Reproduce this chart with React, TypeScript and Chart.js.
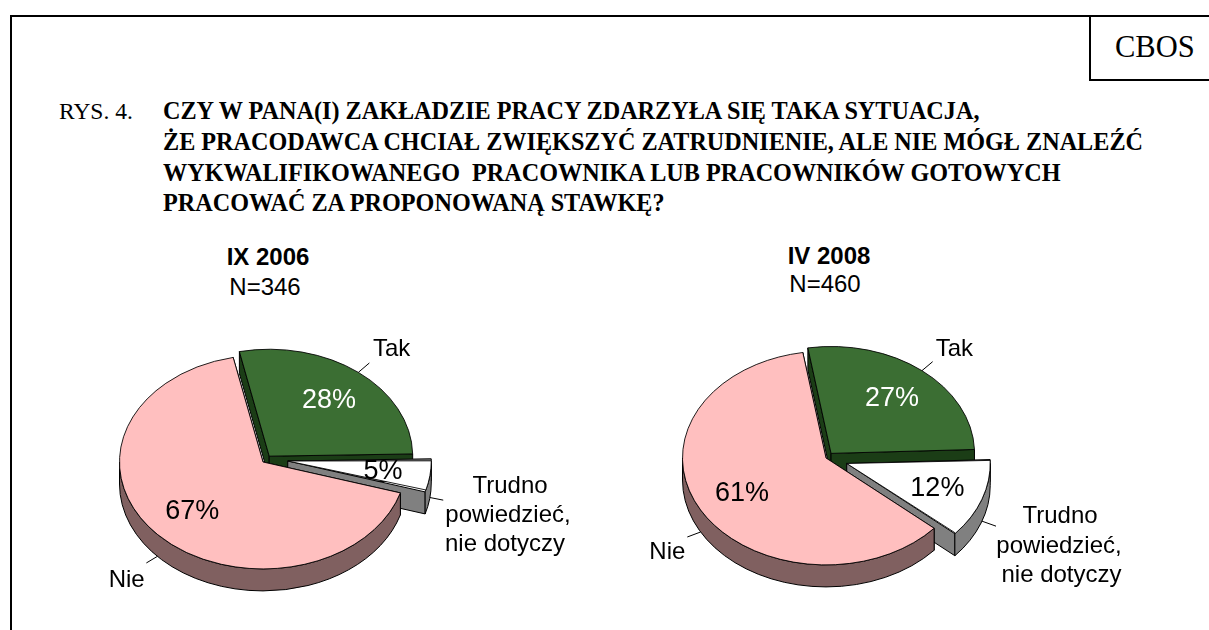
import React, { useEffect, useRef } from "react";
import { Chart, registerables } from "chart.js";

Chart.register(...registerables);

// ---------- data ----------
const categories = ["Tak", "Trudno powiedzieć, nie dotyczy", "Nie"];
const values2006 = [28, 5, 67];
const values2008 = [27, 12, 61];
const period2006 = "IX 2006";
const period2008 = "IV 2008";
const sample2006 = "N=346";
const sample2008 = "N=460";
const titleLines = [
  "CZY W PANA(I) ZAKŁADZIE PRACY ZDARZYŁA SIĘ TAKA SYTUACJA,",
  "ŻE PRACODAWCA CHCIAŁ ZWIĘKSZYĆ ZATRUDNIENIE, ALE NIE MÓGŁ ZNALEŹĆ",
  "WYKWALIFIKOWANEGO  PRACOWNIKA LUB PRACOWNIKÓW GOTOWYCH",
  "PRACOWAĆ ZA PROPONOWANĄ STAWKĘ?",
];
const figureLabel = "RYS. 4.";
const sourceLabel = "CBOS";

// ---------- style ----------
const topColors = ["#3B6E33", "#FFFFFF", "#FFBFBF"];
const wallColors = ["#1B3D16", "#808080", "#806060"];
const valueColors = ["#FFFFFF", "#000000", "#000000"];
const SANS = '"Liberation Sans", Arial, sans-serif';
const SERIF = '"Liberation Serif", "Times New Roman", serif';
const RADIUS = 143.5;
const SQUASH = 0.745;
const DEPTH = 22;
const CANVAS_W = 700;
const CANVAS_H = 336;

type LabelSpec = { x: number; lines: { text: string; dx: number; y: number }[]; leader: [number, number] };

const layout2006 = {
  left: -87, top: 294, rotation: -12, explode: [10, 25, 0], lift: [0, -3.5, 0],
  labels: [
    { x: 391.7, lines: [{ text: "Tak", dx: 0, y: 356 }], leader: [11, -9.4] },
    {
      x: 508,
      lines: [
        { text: "Trudno", dx: 2, y: 493 },
        { text: "powiedzieć,", dx: 0, y: 522 },
        { text: "nie dotyczy", dx: -3, y: 551 },
      ],
      leader: [13.3, 2.6],
    },
    { x: 126.7, lines: [{ text: "Nie", dx: 0, y: 587.3 }], leader: [-11, 6.6] },
  ] as LabelSpec[],
};

const layout2008 = {
  left: 476, top: 290, rotation: -9.3, explode: [8, 22, 0], lift: [0, 0, 0],
  labels: [
    { x: 954.3, lines: [{ text: "Tak", dx: 0, y: 356 }], leader: [10.7, -9] },
    {
      x: 1060,
      lines: [
        { text: "Trudno", dx: 0, y: 523 },
        { text: "powiedzieć,", dx: -1, y: 552.5 },
        { text: "nie dotyczy", dx: 1.5, y: 582 },
      ],
      leader: [14, 5],
    },
    { x: 667.3, lines: [{ text: "Nie", dx: 0, y: 559.3 }], leader: [-13.3, 5] },
  ] as LabelSpec[],
};

function makePlugin(cfg: typeof layout2006) {
  const shift = (arc: any, i: number) => {
    const h = (arc.startAngle + arc.endAngle) / 2;
    const e = cfg.explode[i];
    return {
      cx: arc.x + Math.cos(h) * e,
      cy: arc.baseY + Math.sin(h) * e * SQUASH + cfg.lift[i],
    };
  };
  return {
    id: "pie3d",
    afterDatasetsUpdate(chart: any) {
      // keep every exploded slice at the true radius
      chart.getDatasetMeta(0).data.forEach((arc: any, i: number) => {
        const c = arc.endAngle - arc.startAngle;
        const fix = 1 - Math.sin(Math.min(Math.PI, c));
        arc.outerRadius = RADIUS - cfg.explode[i] * fix;
        arc.baseY = arc.y;
        arc.y = arc.y + cfg.lift[i] / SQUASH;
      });
    },
    beforeDatasetsDraw(chart: any) {
      const ctx: CanvasRenderingContext2D = chart.ctx;
      ctx.save();
      ctx.lineWidth = 1;
      ctx.strokeStyle = "#000";
      ctx.lineJoin = "round";
      chart.getDatasetMeta(0).data.forEach((arc: any, i: number) => {
        const { cx, cy } = shift(arc, i);
        const a0 = arc.startAngle;
        const a1 = arc.endAngle;
        ctx.fillStyle = wallColors[i];
        [a0, a1].forEach((a) => {
          const px = cx + Math.cos(a) * RADIUS;
          const py = cy + Math.sin(a) * RADIUS * SQUASH;
          ctx.beginPath();
          ctx.moveTo(cx, cy);
          ctx.lineTo(px, py);
          ctx.lineTo(px, py + DEPTH);
          ctx.lineTo(cx, cy + DEPTH);
          ctx.closePath();
          ctx.fill();
          ctx.stroke();
        });
        const lo = Math.max(a0, 0);
        const hi = Math.min(a1, Math.PI);
        if (hi > lo) {
          ctx.beginPath();
          ctx.ellipse(cx, cy, RADIUS, RADIUS * SQUASH, 0, lo, hi);
          ctx.ellipse(cx, cy + DEPTH, RADIUS, RADIUS * SQUASH, 0, hi, lo, true);
          ctx.closePath();
          ctx.fill();
          ctx.stroke();
        }
      });
      ctx.restore();
    },
    beforeDatasetDraw(chart: any) {
      const arc = chart.getDatasetMeta(0).data[0];
      const ctx = chart.ctx;
      ctx.save();
      ctx.translate(arc.x, arc.baseY);
      ctx.scale(1, SQUASH);
      ctx.translate(-arc.x, -arc.baseY);
    },
    afterDatasetDraw(chart: any) {
      chart.ctx.restore();
    },
    afterDatasetsDraw(chart: any) {
      const ctx: CanvasRenderingContext2D = chart.ctx;
      const vals = chart.data.datasets[0].data as number[];
      ctx.save();
      chart.getDatasetMeta(0).data.forEach((arc: any, i: number) => {
        const { cx, cy } = shift(arc, i);
        const h = (arc.startAngle + arc.endAngle) / 2;
        // percentage inside the slice
        ctx.font = `27px ${SANS}`;
        ctx.textAlign = "center";
        ctx.textBaseline = "middle";
        ctx.fillStyle = valueColors[i];
        ctx.fillText(
          `${vals[i]}%`,
          cx + Math.cos(h) * RADIUS * 0.67,
          cy + Math.sin(h) * RADIUS * 0.67 * SQUASH + 1
        );
        // leader line
        const spec = cfg.labels[i];
        const sx = cx + Math.cos(h) * RADIUS;
        const sy = cy + Math.sin(h) * RADIUS * SQUASH + (Math.sin(h) > 0 ? DEPTH : 0);
        ctx.strokeStyle = "#000";
        ctx.lineWidth = 1;
        ctx.beginPath();
        ctx.moveTo(sx, sy);
        ctx.lineTo(sx + spec.leader[0], sy + spec.leader[1]);
        ctx.stroke();
        // category label
        ctx.font = `24px ${SANS}`;
        ctx.textBaseline = "alphabetic";
        ctx.fillStyle = "#000";
        spec.lines.forEach((l) => {
          ctx.fillText(l.text, spec.x + l.dx - cfg.left, l.y - cfg.top);
        });
      });
      ctx.restore();
    },
  };
}

function Pie({ values, cfg }: { values: number[]; cfg: typeof layout2006 }) {
  const ref = useRef<HTMLCanvasElement>(null);
  useEffect(() => {
    const chart = new Chart(ref.current!, {
      type: "pie",
      data: {
        labels: categories,
        datasets: [
          {
            data: values,
            backgroundColor: topColors,
            borderColor: "#000",
            borderWidth: 1,
            borderJoinStyle: "round",
            offset: cfg.explode.map((e) => e * 4),
          } as any,
        ],
      },
      options: {
        animation: false,
        responsive: false,
        radius: RADIUS,
        rotation: cfg.rotation,
        layout: { padding: 0 },
        events: [],
        plugins: { legend: { display: false }, tooltip: { enabled: false }, title: { display: false } },
      } as any,
      plugins: [makePlugin(cfg)],
    });
    return () => chart.destroy();
  }, []);
  return (
    <canvas
      ref={ref}
      width={CANVAS_W}
      height={CANVAS_H}
      style={{ position: "absolute", left: cfg.left, top: cfg.top, width: CANVAS_W, height: CANVAS_H }}
    />
  );
}

function Txt(p: {
  x: number; y: number; size: number; serif?: boolean; bold?: boolean; center?: boolean; children: string;
}) {
  const asc = p.serif ? 0.891 : 0.905;
  return (
    <div
      style={{
        position: "absolute",
        left: p.x,
        top: p.y - p.size * asc,
        fontFamily: p.serif ? SERIF : SANS,
        fontSize: p.size,
        fontWeight: p.bold ? 700 : 400,
        whiteSpace: "pre",
        lineHeight: "normal",
        color: "#000",
        transform: p.center ? "translateX(-50%)" : undefined,
      }}
    >
      {p.children}
    </div>
  );
}

const rule = (left: number, top: number, width: number, height: number): React.CSSProperties => ({
  position: "absolute", left, top, width, height, background: "#000",
});

const titleBaselines = [119, 150, 180.5, 210.5];

export default function App() {
  return (
    <div style={{ position: "fixed", left: 0, top: 0, width: 1209, height: 630, overflow: "hidden", background: "#fff" }}>
      <div style={rule(10, 15, 1199, 2)} />
      <div style={rule(10, 15, 2, 615)} />
      <div style={rule(1089, 15, 2, 66)} />
      <div style={rule(1089, 79, 120, 2)} />
      <Txt x={1115} y={57} size={30.5} serif>{sourceLabel}</Txt>
      <Txt x={59} y={119} size={23.5} serif>{figureLabel}</Txt>
      {titleLines.map((t, i) => (
        <Txt key={i} x={163} y={titleBaselines[i]} size={24.2} serif bold>{t}</Txt>
      ))}
      <Txt x={268} y={265} size={24} bold center>{period2006}</Txt>
      <Txt x={265} y={295} size={24} center>{sample2006}</Txt>
      <Txt x={829} y={264} size={24} bold center>{period2008}</Txt>
      <Txt x={825} y={292} size={24} center>{sample2008}</Txt>
      <Pie values={values2006} cfg={layout2006} />
      <Pie values={values2008} cfg={layout2008} />
    </div>
  );
}
